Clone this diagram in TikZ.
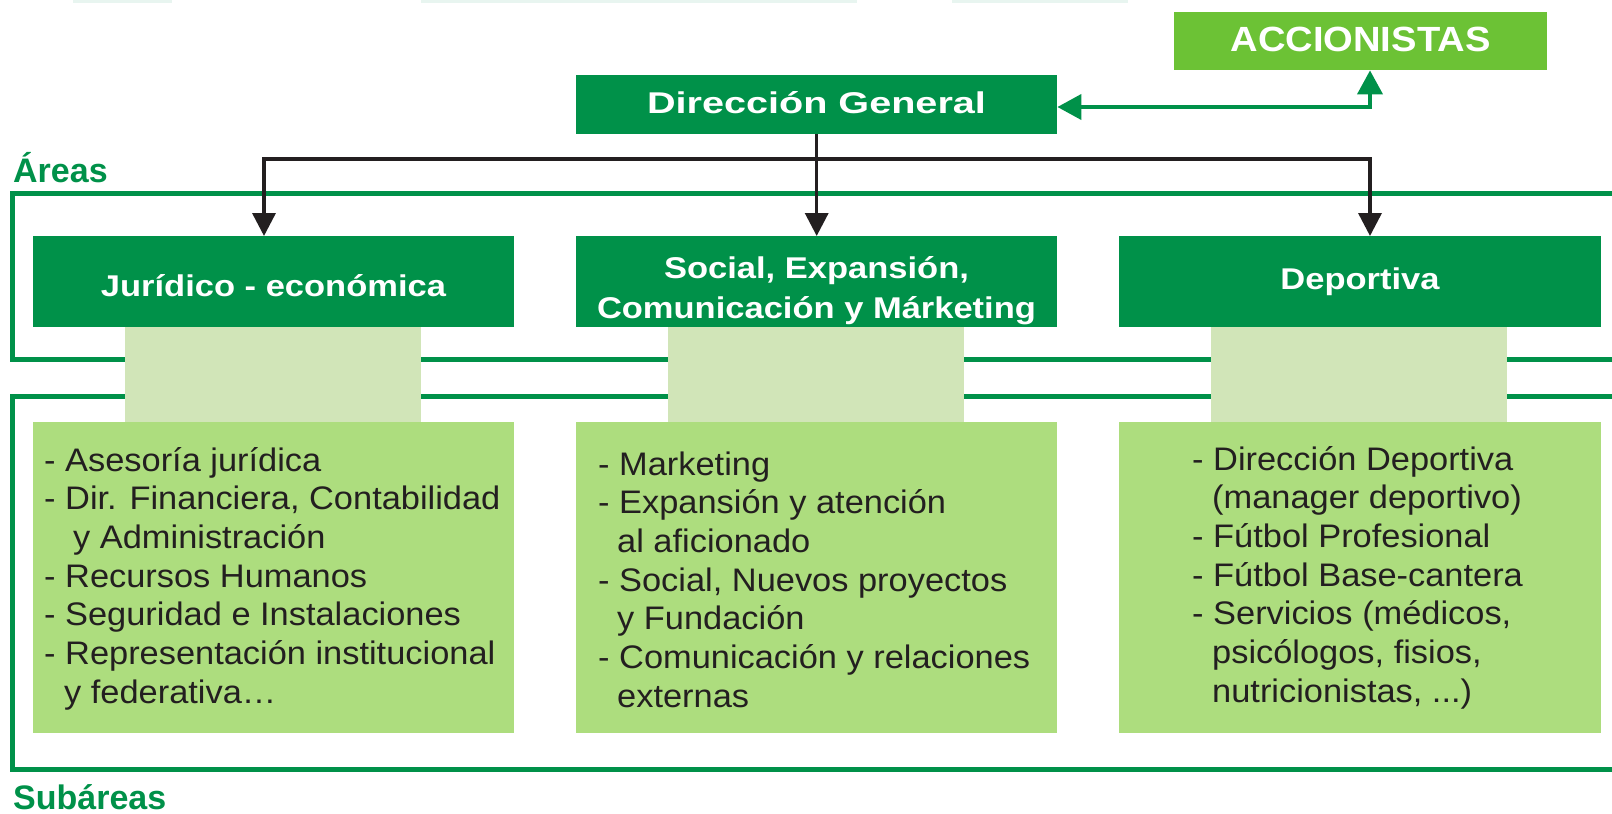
\documentclass[tikz,border=0pt]{standalone}
\usepackage{fontspec}
\setmainfont{Liberation Sans}
\newfontfamily\dgfont[FakeStretch=1.32]{Liberation Sans}
\newfontfamily\hdfont[FakeStretch=1.15]{Liberation Sans}
\newfontfamily\acfont[FakeStretch=1.09]{Liberation Sans}
\newfontfamily\txfont[FakeStretch=1.055]{Liberation Sans}
\usetikzlibrary{arrows.meta}
\definecolor{dkgreen}{HTML}{009149}
\definecolor{accgreen}{HTML}{6CC235}
\definecolor{stripgreen}{HTML}{D1E5B8}
\definecolor{subgreen}{HTML}{ADDD7E}
\definecolor{txtgray}{HTML}{231F20}
\definecolor{faintcyan}{HTML}{E8F5F0}
\tikzset{
  blktip/.tip={Triangle[length=23pt,width=23pt]},
  grntip/.tip={Triangle[length=24pt,width=25pt]}
}
\begin{document}
\begin{tikzpicture}[x=1pt,y=-1pt,
  box/.style={draw=none, inner sep=0pt, anchor=north west},
  areabox/.style={box, fill=dkgreen, minimum width=481pt, minimum height=91pt},
  stripbox/.style={box, fill=stripgreen, minimum width=296pt, minimum height=95pt},
  subbox/.style={box, fill=subgreen, minimum width=481pt, minimum height=311pt},
  headtxt/.style={inner sep=0pt, text=white, font=\hdfont\bfseries\fontsize{30}{40}\selectfont, align=center, anchor=base},
  subtxt/.style={inner sep=0pt, text=txtgray, font=\txfont\fontsize{32.6}{38.7}\selectfont, align=left, anchor=base west},
  labtxt/.style={inner sep=0pt, text=dkgreen, font=\bfseries\fontsize{34}{40}\selectfont, anchor=base west},
  frame/.style={draw=dkgreen, line width=5pt, line join=miter},
  blkline/.style={draw=txtgray, line width=3.5pt, line join=miter},
  grnline/.style={draw=dkgreen, line width=4pt, line join=miter}
]
\useasboundingbox (0,0) rectangle (1612,814);

% faint remnants at the top edge
\fill[faintcyan] (73,0) rectangle (172,3);
\fill[faintcyan] (421,0) rectangle (857,3);
\fill[faintcyan] (952,0) rectangle (1128,3);

% frames
\draw[frame] (1612,193) -- (12.5,193) -- (12.5,359) -- (1612,359);
\draw[frame] (1612,396.5) -- (12.5,396.5) -- (12.5,769.5) -- (1612,769.5);

% light strips
\node[stripbox] (s1) at (125,327) {};
\node[stripbox] (s2) at (668,327) {};
\node[stripbox] (s3) at (1211,327) {};

% top boxes
\node[box, fill=accgreen, minimum width=373pt, minimum height=58pt] (acc) at (1174,12) {};
\node[box, fill=dkgreen, minimum width=481pt, minimum height=59pt] (dg) at (576,75) {};

% area boxes
\node[areabox] (jur) at (33,236) {};
\node[areabox] (soc) at (576,236) {};
\node[areabox, minimum width=482pt] (dep) at (1119,236) {};

% subarea boxes
\node[subbox] (sub1) at (33,422) {};
\node[subbox] (sub2) at (576,422) {};
\node[subbox, minimum width=482pt] (sub3) at (1119,422) {};

% texts in boxes
\node[inner sep=0pt, text=white, font=\acfont\bfseries\fontsize{35}{40}\selectfont, anchor=base] (acct) at (1360.5,51.7) {ACCIONISTAS};
\node[inner sep=0pt, text=white, font=\dgfont\bfseries\fontsize{30}{40}\selectfont, anchor=base] (dgt) at (816.5,113.3) {Dirección General};
\node[headtxt] (jurt) at (273.5,296.5) {Jurídico - económica};
\node[headtxt] (soct) at (816.5,318) {Social, Expansión,\\Comunicación y Márketing};
\node[headtxt] (dept) at (1360,289.5) {Deportiva};

% (base anchor of a multi-line node = baseline of its last line)
\node[subtxt] (sub1t) at (44,703.2) {- Asesoría jurídica\\- Dir. Financiera, Contabilidad\\\hspace*{29pt}y Administración\\- Recursos Humanos\\- Seguridad e Instalaciones\\- Representación institucional\\\hspace*{20pt}y federativa…};
\node[subtxt] (sub2t) at (598,707.2) {- Marketing\\- Expansión y atención\\\hspace*{19pt}al aficionado\\- Social, Nuevos proyectos\\\hspace*{19pt}y Fundación\\- Comunicación y relaciones\\\hspace*{19pt}externas};
\node[subtxt] (sub3t) at (1192,702.2) {- Dirección Deportiva\\\hspace*{20pt}(manager deportivo)\\- Fútbol Profesional\\- Fútbol Base-cantera\\- Servicios (médicos,\\\hspace*{20pt}psicólogos, fisios,\\\hspace*{20pt}nutricionistas, ...)};

% labels
\node[labtxt] (areas) at (13,182) {Áreas};
\node[labtxt] (subareas) at (13,809) {Subáreas};

% black connectors
\coordinate (jl) at (264,159);
\coordinate (jr) at (1370,159);
\draw[blkline, {blktip}-{blktip}] (jl |- jur.north) -- (jl) -- (jr) -- (jr |- dep.north);
\draw[blkline, -{blktip}] (dg.south) -- (soc.north);

% green connector
\coordinate (gc) at (1370,107);
\draw[grnline, {grntip}-{grntip}] (gc |- acc.south) -- (gc) -- (gc -| dg.east);
\end{tikzpicture}
\end{document}
